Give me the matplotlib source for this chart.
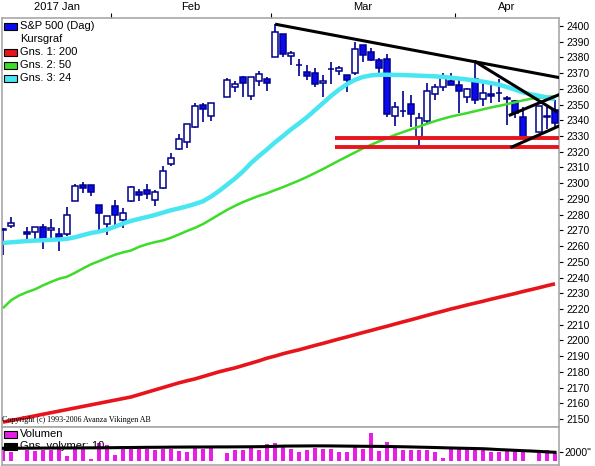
import numpy as np
import pandas as pd
import matplotlib
matplotlib.use("Agg")
import matplotlib.pyplot as plt
from matplotlib.patches import Rectangle
from matplotlib.transforms import blended_transform_factory

W, H = 595, 466

NAVY = "#00008C"
BLUE = "#0A0AEE"
RED = "#E8141B"
GREEN = "#3CDC28"
CYAN = "#48E6F2"
MAGENTA = "#E61EE6"
FRAME = "#A8A8A8"

plt.rcParams.update({
    "font.family": ["Liberation Sans", "DejaVu Sans"],
    "font.size": 7.5,
})

# weekday calendar, holidays (Jan 16, Feb 20, Apr 14) have no candle
DATES = pd.bdate_range("2017-01-12", "2017-04-19")
nan = np.nan

OPEN = [2271.14, 2272.74, nan, 2269.14, 2269.14, 2271.90, 2269.96, 2267.78, 2267.88, 2288.88,
        2298.63, 2299.02, 2286.01, 2274.02, 2285.59, 2276.69, 2288.54, 2294.28, 2295.87, 2289.55,
        2296.70, 2312.27, 2321.72, 2326.12, 2335.58, 2349.64, 2343.01, nan, 2354.91, 2361.11,
        2367.50, 2355.73, 2365.23, 2366.08, 2380.13, 2394.75, 2380.92, 2375.23, 2370.74, 2369.81,
        2363.49, 2372.52, 2371.56, 2368.55, 2370.34, 2387.71, 2383.71, 2378.24, 2379.32, 2343.00,
        2345.97, 2350.42, 2329.11, 2339.79, 2356.54, 2361.31, 2364.82, 2362.34, 2354.76, 2366.59,
        2353.79, 2356.59, 2357.16, 2353.92, 2352.15, 2341.98, nan, 2332.62, 2342.53, 2346.79]
HIGH = [2271.78, 2278.68, nan, 2272.08, 2272.01, 2274.33, 2276.96, 2271.78, 2284.63, 2299.55,
        2300.99, 2299.02, 2286.01, 2279.09, 2289.14, 2283.97, 2298.31, 2296.18, 2299.40, 2295.91,
        2311.08, 2319.23, 2331.58, 2337.58, 2351.30, 2351.31, 2351.16, nan, 2366.71, 2365.13,
        2368.26, 2367.34, 2371.54, 2367.79, 2400.98, 2394.75, 2383.89, 2378.80, 2375.12, 2373.09,
        2369.08, 2376.86, 2374.42, 2368.55, 2390.01, 2388.10, 2385.71, 2379.55, 2381.93, 2351.81,
        2358.92, 2356.22, 2344.90, 2363.78, 2363.36, 2370.42, 2370.35, 2365.87, 2360.53, 2378.36,
        2364.16, 2363.76, 2366.37, 2355.22, 2352.72, 2348.26, nan, 2349.14, 2348.35, 2352.63]
LOW = [2254.25, 2271.51, nan, 2262.81, 2263.35, 2258.41, 2265.01, 2257.02, 2266.68, 2288.88,
       2294.08, 2291.62, 2268.04, 2267.21, 2272.44, 2271.65, 2287.88, 2288.57, 2290.16, 2285.38,
       2296.61, 2311.10, 2321.42, 2322.17, 2334.81, 2338.87, 2339.58, nan, 2354.91, 2358.34,
       2355.09, 2352.87, 2361.87, 2358.96, 2380.13, 2380.17, 2375.39, 2367.98, 2365.51, 2361.01,
       2354.54, 2363.04, 2368.52, 2358.18, 2368.94, 2377.18, 2377.64, 2369.66, 2341.90, 2336.45,
       2342.13, 2335.74, 2322.25, 2337.63, 2352.94, 2358.58, 2362.60, 2344.73, 2350.72, 2350.52,
       2348.90, 2350.74, 2351.50, 2337.25, 2341.18, 2328.95, nan, 2332.51, 2334.54, 2335.05]
CLOSE = [2270.44, 2274.64, nan, 2267.89, 2271.89, 2263.69, 2271.31, 2265.20, 2280.07, 2298.37,
         2296.68, 2294.69, 2280.90, 2278.87, 2279.55, 2280.85, 2297.42, 2292.56, 2293.08, 2294.67,
         2307.87, 2316.10, 2328.25, 2337.58, 2349.25, 2347.22, 2351.16, nan, 2365.38, 2362.82,
         2363.81, 2367.34, 2369.75, 2363.64, 2395.96, 2381.92, 2383.12, 2375.31, 2368.39, 2362.98,
         2364.87, 2372.60, 2373.47, 2365.45, 2385.26, 2381.38, 2378.25, 2373.47, 2344.02, 2348.45,
         2345.96, 2343.98, 2341.59, 2358.57, 2361.13, 2368.06, 2362.72, 2358.84, 2360.16, 2352.95,
         2357.49, 2355.54, 2357.16, 2353.78, 2344.93, 2328.95, nan, 2349.01, 2342.19, 2338.17]

# moving averages
MA200 = [2148.0, 2149.0, 2150.0, 2151.0, 2152.0, 2153.0, 2154.0, 2155.0, 2156.0, 2157.0,
         2158.0, 2159.0, 2160.0, 2161.0, 2162.0, 2163.0, 2164.0, 2165.5, 2167.0, 2168.5,
         2170.0, 2171.5, 2173.0, 2174.3, 2175.5, 2177.0, 2178.5, 2180.0, 2181.3, 2182.5,
         2184.0, 2185.5, 2187.0, 2188.7, 2190.0, 2191.5, 2192.8, 2194.0, 2195.4, 2196.8,
         2198.1, 2199.5, 2200.9, 2202.2, 2203.6, 2205.0, 2206.3, 2207.7, 2209.0, 2210.4,
         2211.8, 2213.1, 2214.5, 2215.9, 2217.3, 2218.6, 2220.0, 2221.2, 2222.5, 2223.7,
         2224.9, 2226.2, 2227.4, 2228.6, 2229.8, 2231.1, 2232.3, 2233.5, 2234.8, 2236.0]
MA50 = [2220.5, 2225.5, 2228.5, 2230.7, 2232.5, 2235.0, 2237.2, 2239.2, 2240.5, 2243.0,
        2245.8, 2248.4, 2250.4, 2252.5, 2254.5, 2256.0, 2257.2, 2259.5, 2261.2, 2262.5,
        2263.6, 2265.3, 2267.4, 2269.6, 2271.6, 2274.0, 2277.0, 2280.0, 2283.0, 2285.6,
        2288.0, 2290.0, 2292.0, 2293.6, 2295.6, 2297.5, 2299.6, 2301.7, 2304.0, 2306.5,
        2309.0, 2311.7, 2314.4, 2317.0, 2319.6, 2322.2, 2324.4, 2326.6, 2328.6, 2330.7,
        2332.5, 2334.3, 2336.0, 2337.8, 2339.5, 2341.0, 2342.4, 2343.5, 2344.6, 2345.8,
        2347.0, 2348.2, 2349.2, 2350.3, 2351.5, 2352.7, 2353.7, 2354.4, 2354.9, 2355.3]
MA24 = [2262.0, 2262.4, 2262.8, 2263.2, 2263.5, 2263.7, 2264.0, 2264.2, 2264.6, 2265.6,
        2267.0, 2268.3, 2269.2, 2270.5, 2272.3, 2274.4, 2276.0, 2277.3, 2278.5, 2279.8,
        2281.3, 2282.8, 2284.0, 2285.3, 2286.8, 2288.5, 2291.5, 2295.0, 2299.0, 2303.0,
        2307.5, 2312.8, 2317.3, 2321.5, 2326.0, 2330.0, 2334.2, 2338.0, 2342.0, 2346.5,
        2351.0, 2355.5, 2359.5, 2363.0, 2365.8, 2367.6, 2368.6, 2369.0, 2369.0, 2368.9,
        2368.8, 2368.6, 2368.4, 2368.2, 2368.0, 2367.6, 2367.1, 2366.6, 2366.0, 2365.4,
        2364.6, 2363.7, 2362.7, 2361.2, 2359.5, 2357.8, 2356.5, 2355.6, 2354.5, 2353.3]

# volume (millions) and its 10-day average
VOLUME = [2520, 2000, nan, 2365, 2215, 2365, 2365, 2515, 1075, 3075,
          2945, 365, 3805, 3440, 1290, 2515, 2515, 2515, 2515, 2365,
          2515, 2515, 2215, 2000, 2730, 2515, 3075, nan, 1655, 2365,
          2365, 2730, 2365, 3655, 3935, 2945, 2515, 2000, 2365, 2730,
          2515, 2515, 2000, 2000, 2945, 2515, 6085, 2215, 4150, 3075,
          2365, 2365, 2365, 2365, 1870, 580, 2515, 2945, 2515, 2515,
          2365, 2000, 1870, 2150, 2365, 2215, nan, 1785, 2365, 1655]
VOL_MA = [2730, 2730, 2750, 2760, 2770, 2780, 2790, 2800, 2800, 2810,
          2820, 2830, 2840, 2850, 2870, 2890, 2900, 2920, 2940, 2950,
          2960, 2980, 2990, 3000, 3010, 3010, 3020, 3030, 3030, 3040,
          3050, 3060, 3080, 3100, 3150, 3200, 3220, 3230, 3240, 3250,
          3250, 3240, 3220, 3200, 3180, 3160, 3150, 3140, 3120, 3090,
          3060, 3020, 2980, 2940, 2900, 2850, 2800, 2760, 2720, 2680,
          2640, 2550, 2450, 2380, 2300, 2220, 2150, 2060, 1960, 1870]

# hand-drawn trend lines: ((index, price), (index, price))
TRENDLINES = [((34.2, 2401.0), (69.5, 2367.2)),
              ((59.1, 2377.1), (69.1, 2345.9)),
              ((63.4, 2343.4), (69.4, 2356.1)),
              ((63.6, 2323.0), (69.5, 2336.4))]
SUPPORT = [2328.9, 2323.2]
SUPPORT_START = 41.5

PRICE_TICKS = list(range(2150, 2401, 10))

LEGEND = [("S&P 500 (Dag)", BLUE), ("Kursgraf", None), ("Gns. 1: 200", RED),
          ("Gns. 2: 50", GREEN), ("Gns. 3: 24", CYAN)]
VOL_LEGEND = [("Volumen", MAGENTA), ("Gns. volymer: 10", "black")]


def fx(px):
    return px / W


def fy(py):
    return 1 - py / H


x = np.arange(len(DATES))
o, h, l, c = (np.array(a, dtype=float) for a in (OPEN, HIGH, LOW, CLOSE))
XMIN, XMAX = -0.125, 69.5

fig = plt.figure(figsize=(W / 100, H / 100), dpi=100)
ax = fig.add_axes([fx(2), fy(427), fx(557), 409 / H])
vax = fig.add_axes([fx(2), fy(465), fx(557), 38 / H])

for a in (ax, vax):
    for s in a.spines.values():
        s.set_color(FRAME)
        s.set_linewidth(1.2)
    a.set_xlim(XMIN, XMAX)

# candles
ok = ~np.isnan(o)
down = ok & (c < o)
up = ok & (c >= o)
ax.vlines(x[ok], l[ok], h[ok], color=NAVY, lw=1.2, zorder=2)
for mask, face in ((down, BLUE), (up, "white")):
    bot = np.minimum(o, c)[mask]
    hgt = np.abs(c - o)[mask]
    ax.bar(x[mask], hgt, bottom=bot, width=0.72, color=face,
           edgecolor=NAVY, linewidth=1.1, zorder=3)

ax.plot(x, MA200, color=RED, lw=2.6, zorder=4, solid_capstyle="butt")
ax.plot(x, MA50, color=GREEN, lw=1.8, zorder=4, solid_capstyle="butt")
ax.plot(x, MA24, color=CYAN, lw=3.2, zorder=4, solid_capstyle="butt")

for lvl in SUPPORT:
    ax.plot([SUPPORT_START, XMAX], [lvl, lvl], color=RED, lw=2.8, zorder=5,
            solid_capstyle="butt")
for (x0, y0), (x1, y1) in TRENDLINES:
    ax.plot([x0, x1], [y0, y1], color="black", lw=2.2, zorder=6)

ax.set_ylim(2144.9, 2405.1)
ax.yaxis.tick_right()
ax.set_yticks(PRICE_TICKS)
ax.set_yticklabels([str(t) for t in PRICE_TICKS])
ax.tick_params(axis="y", length=3, width=0.8, pad=2, labelsize=7.5)

# month ticks on top edge, labels centred over each month
months = pd.Series(DATES.month)
edges = [i - 0.5 for i in range(1, len(months)) if months[i] != months[i - 1]]
ax.set_xticks(edges)
ax.tick_params(axis="x", top=True, bottom=False, labeltop=False,
               labelbottom=False, length=3.5, width=0.8, direction="out")
bounds = [XMIN] + edges + [XMAX]
trans = blended_transform_factory(ax.transData, fig.transFigure)
for k in range(len(bounds) - 1):
    d = DATES[int(np.ceil(bounds[k] + 0.5))] if k else DATES[0]
    lab = d.strftime("%Y %b") if k == 0 else d.strftime("%b")
    ax.text((bounds[k] + bounds[k + 1]) / 2, fy(7), lab, transform=trans,
            ha="center", va="center", fontsize=8)

# volume panel
vax.bar(x, VOLUME, width=0.5, color=MAGENTA, zorder=2)
vax.plot(x, VOL_MA, color="black", lw=2.2, zorder=3)
vax.set_ylim(-860, 7310)
vax.yaxis.tick_right()
vax.set_yticks([2000])
vax.set_yticklabels(['2000"'])
vax.tick_params(axis="y", length=3, width=0.8, pad=1, labelsize=7.5)
vax.set_xticks([])

# legends
for i, (txt, col) in enumerate(LEGEND):
    yc = 26 + 13 * i
    if col is not None:
        fig.add_artist(Rectangle((fx(4), fy(yc + 3.5)), fx(13), 7 / H, facecolor=col,
                                 edgecolor="black", lw=0.8, transform=fig.transFigure))
    fig.text(fx(20), fy(yc), txt, ha="left", va="center", fontsize=8)
for i, (txt, col) in enumerate(VOL_LEGEND):
    yc = 434 + 12 * i
    fig.add_artist(Rectangle((fx(4), fy(yc + 3.5)), fx(13), 7 / H, facecolor=col,
                             edgecolor="black", lw=0.8, transform=fig.transFigure))
    fig.text(fx(20), fy(yc), txt, ha="left", va="center", fontsize=8)

fig.text(fx(2), fy(420), "Copyright (c) 1993-2006 Avanza Vikingen AB",
         family=["Liberation Serif", "DejaVu Serif"], fontsize=5.8,
         ha="left", va="center")

fig.savefig("out.png", dpi=100)
